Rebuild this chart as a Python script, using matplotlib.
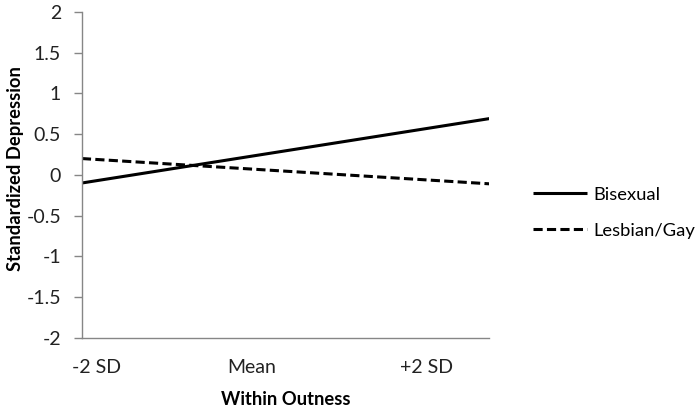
import matplotlib
matplotlib.use("Agg")
import matplotlib.pyplot as plt

x_labels = ["-2 SD", "Mean", "+2 SD"]
x_vals = [-2, 2]
bisexual = [-0.10, 0.69]
lesbian_gay = [0.20, -0.11]
y_ticks = [-2, -1.5, -1, -0.5, 0, 0.5, 1, 1.5, 2]
label_pos = [-1.86, -0.33, 1.38]

plt.rcParams['font.family'] = ['Lato', 'DejaVu Sans']
fig = plt.figure(figsize=(7, 4.09), dpi=100)
ax = fig.add_axes([0.117, 0.174, 0.582, 0.797])

ax.plot(x_vals, bisexual, color='black', lw=2.2, solid_capstyle='butt', label='Bisexual')
ax.plot(x_vals, lesbian_gay, color='black', lw=2.2, linestyle=(0, (3, 1.4)), dash_capstyle='butt', label='Lesbian/Gay')

ax.set_xlim(-2, 2)
ax.set_ylim(-2, 2)
ax.set_yticks(y_ticks)
ax.set_yticklabels([f"{t:g}" for t in y_ticks])
ax.set_xticks(label_pos)
ax.set_xticklabels(x_labels)
ax.tick_params(axis='x', length=0, pad=15, labelsize=14, colors='#222222')
ax.tick_params(axis='y', length=6, width=1, color='#868686', pad=9, labelsize=14, labelcolor='#222222')
for s in ['top', 'right']:
    ax.spines[s].set_visible(False)
for s in ['left', 'bottom']:
    ax.spines[s].set_color('#868686')
    ax.spines[s].set_linewidth(1)

ax.set_ylabel('Standardized Depression', fontsize=13.2, fontweight='bold')
ax.yaxis.set_label_coords(-0.143, 0.52)
ax.set_xlabel('Within Outness', fontsize=13.2, fontweight='bold', labelpad=11)

leg = fig.legend(loc='center left', bbox_to_anchor=(0.761, 0.48), frameon=False,
                 fontsize=13.2, handlelength=2.95, labelspacing=1.1, handletextpad=0.38,
                 borderaxespad=0, borderpad=0)

fig.savefig('out.png', dpi=100)
